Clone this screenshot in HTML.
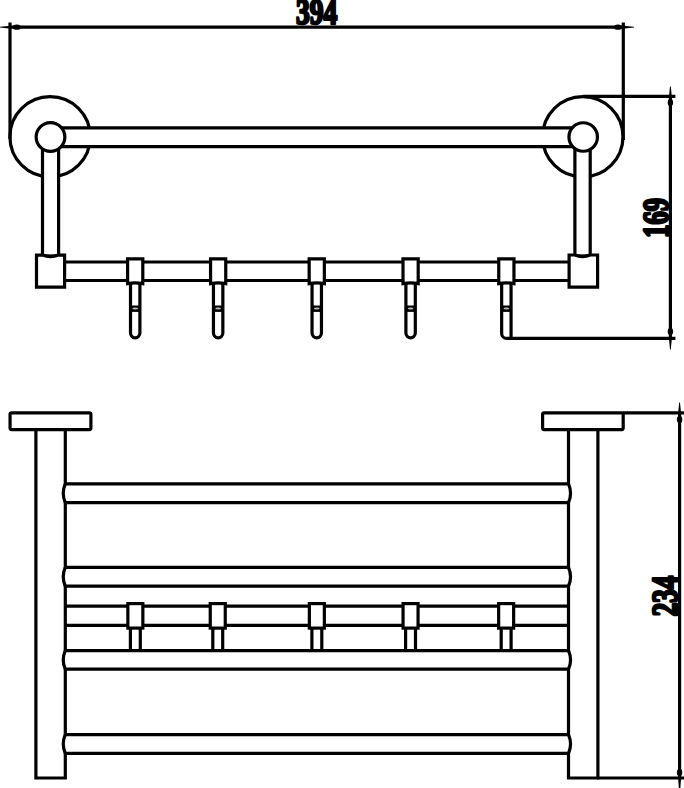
<!DOCTYPE html>
<html><head><meta charset="utf-8">
<style>
html,body{margin:0;padding:0;background:#fff;width:684px;height:788px;overflow:hidden}
svg{position:absolute;left:0;top:0;display:block}
.t{font-family:"Liberation Serif",serif;font-weight:bold;fill:#000;stroke:#000;stroke-width:2.7;stroke-linejoin:round}
</style></head><body>
<svg width="684" height="788" viewBox="0 0 684 788">
<g fill="none" stroke="#000" stroke-width="3.2">
<!-- ===== TOP VIEW ===== -->
<!-- dimension 394 -->
<line x1="10" y1="27.2" x2="623" y2="27.2"/>
<line x1="10" y1="22.5" x2="10" y2="139"/>
<line x1="623.3" y1="22.5" x2="623.3" y2="140"/>
<!-- flanges -->
<circle cx="50.1" cy="136.8" r="40.2"/>
<circle cx="582.8" cy="136.8" r="40.2"/>
<!-- top bar -->
<rect x="60" y="127.9" width="512" height="18.6" fill="#fff" stroke="none"/>
<line x1="60" y1="127.9" x2="572" y2="127.9"/>
<line x1="60" y1="146.6" x2="572" y2="146.6"/>
<!-- posts -->
<rect x="42.5" y="145" width="16.1" height="111" fill="#fff"/>
<rect x="574.9" y="145" width="15.3" height="111" fill="#fff"/>
<!-- small circles -->
<circle cx="50.5" cy="137" r="14.35" fill="#fff"/>
<circle cx="583.2" cy="137" r="14.25" fill="#fff"/>
<!-- lower bar -->
<line x1="64" y1="262" x2="568" y2="262"/>
<line x1="64" y1="280.5" x2="568" y2="280.5"/>
<!-- end blocks -->
<path d="M36.5 287.2 V255.1 H42.5 Q50.5 258.2 58.6 255.1 H64.6 V287.2 Z" fill="#fff"/>
<path d="M569.1 287.2 V255 H574.9 Q582.5 258.2 590.2 255 H597.6 V287.2 Z" fill="#fff"/>
</g>
<!-- hooks top view -->
<g fill="#fff" stroke="#000" stroke-width="3.2">
<path d="M130.50 283 V333.1 A4.7 4.7 0 0 0 139.90 333.1 V283"/>
<path d="M127.60 258.9 H142.80 V283.6 Q135.20 282 127.60 283.6 Z"/>
<rect x="130.80" y="305.5" width="8.8" height="6.4" fill="#000" stroke="none"/>
<ellipse cx="135.20" cy="308.6" rx="2.9" ry="1" fill="#bbb" stroke="none"/>
<path d="M213.45 283 V333.1 A4.7 4.7 0 0 0 222.85 333.1 V283"/>
<path d="M210.55 258.9 H225.75 V283.6 Q218.15 282 210.55 283.6 Z"/>
<rect x="213.75" y="305.5" width="8.8" height="6.4" fill="#000" stroke="none"/>
<ellipse cx="218.15" cy="308.6" rx="2.9" ry="1" fill="#bbb" stroke="none"/>
<path d="M312.05 283 V333.1 A4.7 4.7 0 0 0 321.45 333.1 V283"/>
<path d="M309.15 258.9 H324.35 V283.6 Q316.75 282 309.15 283.6 Z"/>
<rect x="312.35" y="305.5" width="8.8" height="6.4" fill="#000" stroke="none"/>
<ellipse cx="316.75" cy="308.6" rx="2.9" ry="1" fill="#bbb" stroke="none"/>
<path d="M405.90 283 V333.1 A4.7 4.7 0 0 0 415.30 333.1 V283"/>
<path d="M403.00 258.9 H418.20 V283.6 Q410.60 282 403.00 283.6 Z"/>
<rect x="406.20" y="305.5" width="8.8" height="6.4" fill="#000" stroke="none"/>
<ellipse cx="410.60" cy="308.6" rx="2.9" ry="1" fill="#bbb" stroke="none"/>
<path d="M501.65 283 V333.4 A5 5 0 0 0 506.65 338.4 H512.05 M511.05 283 V338.4"/>
<path d="M498.75 258.9 H513.95 V283.6 Q506.35 282 498.75 283.6 Z"/>
<rect x="501.95" y="305.5" width="8.8" height="6.4" fill="#000" stroke="none"/>
<ellipse cx="506.35" cy="308.6" rx="2.9" ry="1" fill="#bbb" stroke="none"/>
</g>
<g fill="none" stroke="#000" stroke-width="3.2">
<!-- 169 dim -->
<line x1="583" y1="96.3" x2="675.4" y2="96.3"/>
<line x1="510" y1="338.4" x2="675.4" y2="338.4"/>
<line x1="670.4" y1="96" x2="670.4" y2="339"/>
</g>
<!-- arrows -->
<g fill="#000">
<polygon points="0,26.8 0,27.6 11,28.7 11,25.7"/>
<ellipse cx="16.8" cy="27.2" rx="4" ry="2.6"/>
<polygon points="634,26.8 634,27.6 623,28.7 623,25.7"/>
<ellipse cx="618" cy="27.2" rx="4" ry="2.6"/>
<polygon points="670,86.5 670.8,86.5 671.9,97 668.9,97"/>
<ellipse cx="670.4" cy="102.6" rx="2.7" ry="3.8"/>
<polygon points="670,349.5 670.8,349.5 671.9,338 668.9,338"/>
<ellipse cx="670.4" cy="331.6" rx="2.7" ry="3.8"/>
<polygon points="679.2,402.5 680,402.5 681.1,413 678.1,413"/>
<ellipse cx="679.6" cy="419.5" rx="2.7" ry="3.8"/>
<ellipse cx="679.6" cy="772.5" rx="2.7" ry="3.8"/>
<polygon points="679,790 680.2,790 681.2,777 678,777"/>
</g>
<text class="t" x="316.8" y="24" font-size="36" text-anchor="middle" transform="translate(316.6 0) scale(0.765 1) translate(-316.8 0)">394</text>
<text class="t" font-size="35.5" text-anchor="middle" transform="translate(667.9 217.8) rotate(-90) scale(0.745 1)">169</text>

<!-- ===== FRONT VIEW ===== -->
<g fill="none" stroke="#000" stroke-width="3.2">
<rect x="10.05" y="412.8" width="80.85" height="16.8" rx="1.5"/>
<rect x="542.6" y="412.8" width="80.6" height="16.8" rx="1.5"/>
<path d="M35.9 429.5 V778 H65.3 V429.5"/>
<path d="M568.5 429.5 V778 H597.9 V429.5"/>
<!-- bars -->
<path d="M65.3 483.9 H568.5 Q572.6 493.25 568.5 502.6 H65.3 Q61.2 493.25 65.3 483.9" fill="#fff"/>
<path d="M65.3 567.3 H568.5 Q572.6 576.75 568.5 586.2 H65.3 Q61.2 576.75 65.3 567.3" fill="#fff"/>
<path d="M65.3 650.7 H568.5 Q572.6 659.95 568.5 669.2 H65.3 Q61.2 659.95 65.3 650.7" fill="#fff"/>
<path d="M65.3 734.7 H568.5 Q572.6 744.05 568.5 753.4 H65.3 Q61.2 744.05 65.3 734.7" fill="#fff"/>
<line x1="65.3" y1="606.2" x2="568.5" y2="606.2"/>
<line x1="65.3" y1="625.3" x2="568.5" y2="625.3"/>
<!-- dim 234 -->
<line x1="623" y1="412.9" x2="684" y2="412.9"/>
<line x1="597" y1="778" x2="684" y2="778"/>
<line x1="679.6" y1="412" x2="679.6" y2="778"/>
</g>
<g fill="#fff" stroke="#000" stroke-width="3.2">
<g transform="translate(0 0)">
<path d="M130.4 628 V650 M140.3 628 V650"/>
<rect x="127.85" y="603.6" width="15" height="24.5"/>
</g>
<g transform="translate(82.4 0)">
<path d="M130.4 628 V650 M140.3 628 V650"/>
<rect x="127.85" y="603.6" width="15" height="24.5"/>
</g>
<g transform="translate(181.5 0)">
<path d="M130.4 628 V650 M140.3 628 V650"/>
<rect x="127.85" y="603.6" width="15" height="24.5"/>
</g>
<g transform="translate(275.2 0)">
<path d="M130.4 628 V650 M140.3 628 V650"/>
<rect x="127.85" y="603.6" width="15" height="24.5"/>
</g>
<g transform="translate(370.8 0)">
<path d="M130.4 628 V650 M140.3 628 V650"/>
<rect x="127.85" y="603.6" width="15" height="24.5"/>
</g>
</g>
<text class="t" font-size="36" text-anchor="middle" transform="translate(677 596) rotate(-90) scale(0.75 1)">234</text>
</svg>
</body></html>
